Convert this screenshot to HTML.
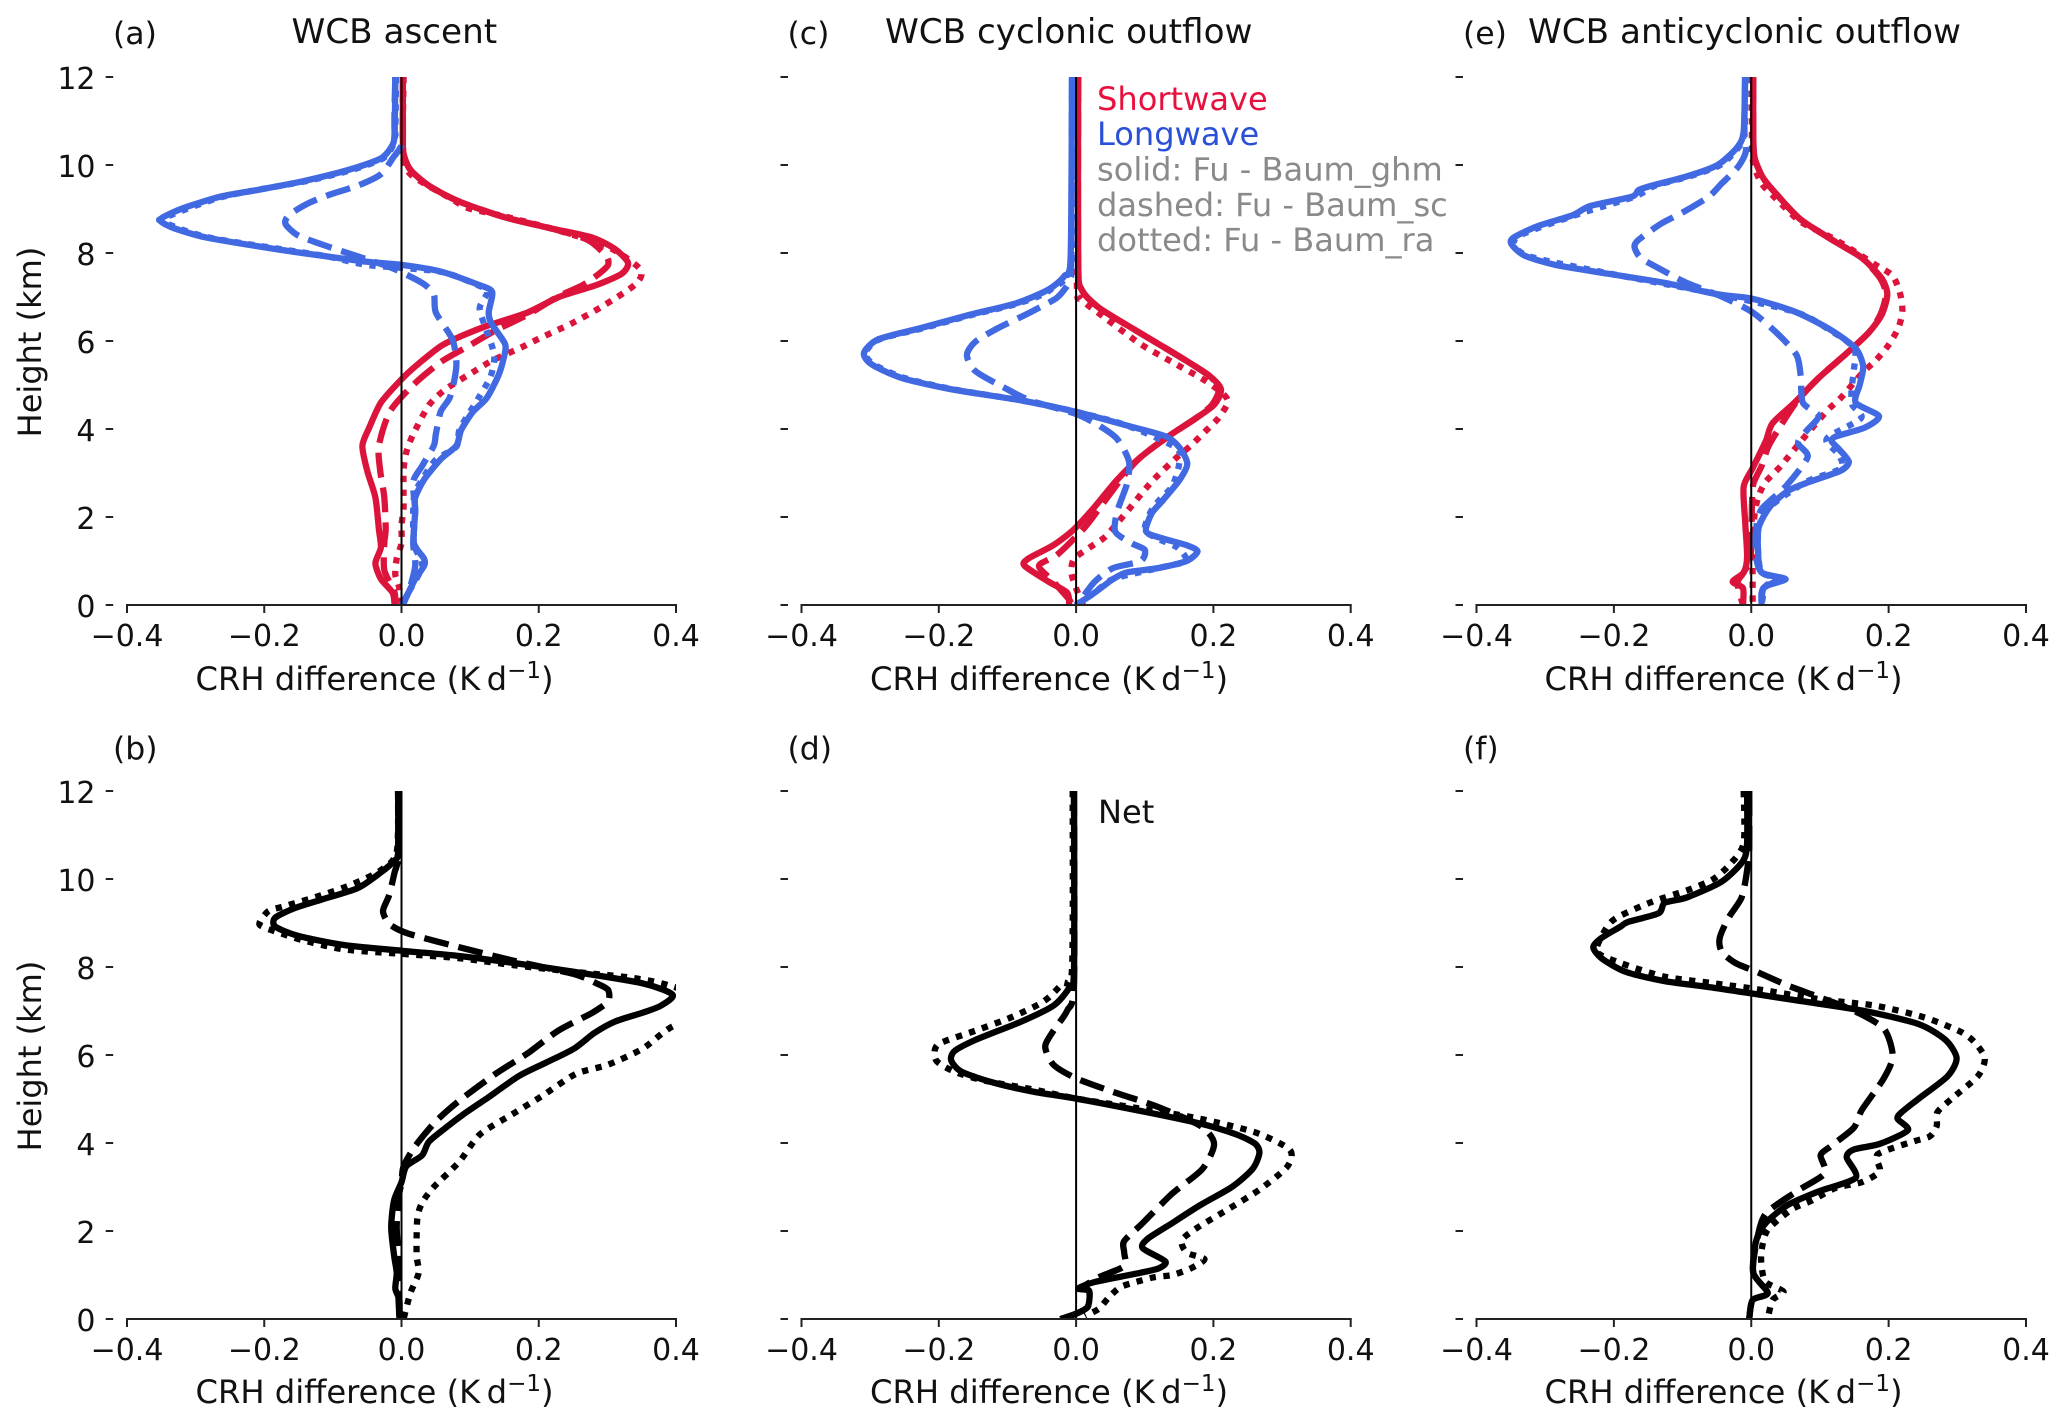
<!DOCTYPE html>
<html lang="en">
<head>
<meta charset="utf-8">
<title>CRH difference profiles</title>
<style>
html,body{margin:0;padding:0;background:#fff}
svg{display:block;font-family:"DejaVu Sans","Liberation Sans",sans-serif}
</style>
</head>
<body>
<svg id="figure" xmlns="http://www.w3.org/2000/svg" width="2067" height="1426" viewBox="0 0 2067 1426">
<rect width="2067" height="1426" fill="#fff"/>
<g id="panels"></g>
<g fill="#111">
<text x="291.5" y="43" font-size="34.2">WCB ascent</text>
<text x="885" y="43" font-size="34.2">WCB cyclonic outflow</text>
<text x="1528" y="43" font-size="34.2">WCB anticyclonic outflow</text>
<text x="113" y="44" font-size="31.5">(a)</text>
<text x="113" y="759" font-size="31.5">(b)</text>
<text x="787.5" y="44" font-size="31.5">(c)</text>
<text x="787.5" y="759" font-size="31.5">(d)</text>
<text x="1463" y="44" font-size="31.5">(e)</text>
<text x="1463" y="759" font-size="31.5">(f)</text>
<text font-size="32" text-anchor="middle" transform="translate(41 342) rotate(-90)">Height (km)</text>
<text font-size="32" text-anchor="middle" transform="translate(41 1056) rotate(-90)">Height (km)</text>
<text x="1097" y="110" font-size="32.1" fill="#e8103c">Shortwave</text>
<text x="1097" y="145" font-size="32.1" fill="#2b50d8">Longwave</text>
<text x="1097" y="180.5" font-size="32.1" fill="#8a8a8a">solid: Fu - Baum_ghm</text>
<text x="1097" y="216" font-size="32.1" fill="#8a8a8a">dashed: Fu - Baum_sc</text>
<text x="1097" y="251" font-size="32.1" fill="#8a8a8a">dotted: Fu - Baum_ra</text>
<text x="1098" y="823" font-size="32.1">Net</text>
</g>
</svg>
<script>
const xTickValues = [-0.4, -0.2, 0, 0.2, 0.4];
const xTickLabels = ["\u22120.4", "\u22120.2", "0.0", "0.2", "0.4"];
const yTickValues = [0, 2, 4, 6, 8, 10, 12];
const yTickLabels = ["0", "2", "4", "6", "8", "10", "12"];

const a_sw_solid_km = [12,10.66,10.25,9.89,9.53,9.17,8.81,8.56,8.35,8.09,7.78,7.53,7.27,7.01,6.65,6.34,6.09,5.88,5.42,5.13,4.6,4.03,3.62,3.05,2.44,1.72,1.31,.95,.59,.28,0];
const a_sw_solid_crh = [.002,.002,.003,.013,.04,.084,.151,.218,.278,.311,.33,.321,.284,.231,.184,.124,.084,.057,.02,0,-.03,-.047,-.057,-.05,-.038,-.033,-.03,-.038,-.03,-.013,-.01];
const a_sw_dashed_km = [12,10.66,10.25,9.89,9.53,9.17,8.81,8.56,8.3,7.94,7.73,7.53,7.27,7.01,6.6,6.24,5.88,5.52,5,4.39,3.62,3.05,2.44,1.72,1.41,.79,.28,0];
const a_sw_dashed_crh = [.002,.002,.003,.013,.04,.084,.151,.218,.271,.298,.301,.288,.264,.228,.184,.137,.097,.057,.017,-.017,-.033,-.031,-.025,-.023,-.025,-.025,-.01,-.01];
const a_sw_dotted_km = [12,10.25,9.84,9.58,9.22,9.02,8.83,8.5,8.14,7.63,7.29,6.81,6.4,6.06,5.85,5.57,5.32,4.9,4.54,3.88,3.47,3.05,2.23,1.82,1.41,1.05,.69,.38,0];
const a_sw_dotted_crh = [.003,.002,.01,.033,.074,.097,.151,.231,.301,.348,.341,.295,.248,.201,.174,.134,.107,.064,.04,.017,.007,.003,.003,0,0,-.007,-.009,-.003,0];
const a_lw_solid_km = [12,10.77,10.46,10.15,9.89,9.63,9.43,9.28,9.02,8.81,8.71,8.56,8.35,8.09,7.94,7.8,7.73,7.58,7.29,7.12,6.65,6.4,5.93,5.62,5.21,4.7,4.39,3.98,3.62,3.31,2.85,2.44,2.13,1.41,1.05,.89,.59,.28,0];
const a_lw_solid_crh = [-.009,-.01,-.013,-.03,-.077,-.144,-.211,-.264,-.318,-.348,-.35,-.331,-.284,-.184,-.117,-.05,0,.057,.11,.132,.127,.131,.151,.149,.141,.124,.104,.087,.08,.057,.033,.02,.02,.018,.033,.033,.02,.01,0];
const a_lw_dashed_km = [12,10.77,10.46,10.15,9.79,9.53,9.33,9.12,8.86,8.66,8.4,8.2,7.99,7.68,7.32,7.06,6.65,6.04,5.52,5.11,4.7,4.39,3.88,3.62,3.16,2.8,2.13,1.41,.89,.28,0];
const a_lw_dashed_crh = [-.009,-.01,0,-.013,-.03,-.064,-.104,-.137,-.164,-.169,-.151,-.117,-.077,-.017,.03,.047,.05,.074,.08,.077,.07,.057,.05,.047,.03,.017,.02,.017,.02,.01,0];
const a_lw_dotted_km = [12,10.77,10.46,10.15,9.89,9.63,9.28,8.81,8.71,8.35,7.94,7.73,7.58,7.29,7.12,6.76,6.4,5.7,5.2,4.7,4,3.6,3.3,2.85,2.44,1.41,.89,.28,0];
const a_lw_dotted_crh = [-.008,-.009,-.012,-.027,-.072,-.14,-.26,-.344,-.348,-.28,-.115,-.05,.055,.108,.125,.114,.12,.135,.13,.112,.085,.08,.05,.03,.018,.018,.03,.01,.002];

const c_sw_solid_km = [12,7.78,7.17,6.76,6.24,5.68,5.21,4.9,4.55,4.24,3.83,3.36,2.85,2.23,1.72,1.36,1.05,.89,.53,.28,0];
const c_sw_solid_crh = [.003,.003,.008,.033,.087,.147,.194,.211,.201,.174,.134,.094,.06,.027,-.003,-.033,-.07,-.075,-.04,-.013,-.01];
const c_sw_dashed_km = [12,7.78,7.17,6.76,6.24,5.68,5.21,4.9,4.55,4.24,3.83,3.36,2.95,2.33,1.77,1.15,.89,.53,.12,0];
const c_sw_dashed_crh = [.003,.003,.008,.033,.087,.147,.194,.208,.198,.174,.134,.094,.07,.04,.013,-.027,-.054,-.033,-.01,-.007];
const c_sw_dotted_km = [12,7.37,6.96,6.55,5.93,5.52,5.11,4.8,4.6,4.24,3.93,3.62,3.36,2.8,2.18,1.56,1.31,1.05,.74,.38,0];
const c_sw_dotted_crh = [.002,.001,.007,.04,.094,.14,.187,.214,.221,.207,.187,.167,.147,.11,.077,.043,.02,-.003,-.007,0,.01];
const c_lw_solid_km = [12,7.89,7.48,7.17,6.86,6.6,6.29,6.04,5.73,5.47,5.16,4.9,4.65,4.39,4.08,3.83,3.57,3.21,2.85,2.39,2.08,1.67,1.51,1.36,1.22,1,.84,.74,.59,.28,0];
const c_lw_solid_crh = [-.006,-.008,-.017,-.04,-.087,-.154,-.227,-.288,-.309,-.298,-.254,-.181,-.08,0,.074,.131,.151,.162,.151,.127,.11,.102,.127,.161,.177,.161,.12,.074,.054,.027,0];
const c_lw_dashed_km = [12,7.89,7.42,7.17,6.96,6.65,6.29,5.98,5.68,5.32,4.96,4.65,4.34,4.08,3.77,3.26,2.75,2.13,1.67,1.41,1.25,1,.84,.53,.12,0];
const c_lw_dashed_crh = [-.006,-.007,-.008,-.017,-.03,-.067,-.114,-.147,-.159,-.147,-.107,-.067,0,.033,.06,.077,.074,.06,.057,.08,.1,.094,.054,.027,.007,0];
const c_lw_dotted_km = [12,7.89,7.17,6.86,6.6,6.29,6.04,5.73,5.47,5.16,4.9,4.65,4.39,4.08,3.57,3.2,2.7,2.4,2.1,1.7,1.5,1.3,1,.84,.59,.28,0];
const c_lw_dotted_crh = [-.005,-.006,-.037,-.083,-.15,-.223,-.286,-.307,-.295,-.25,-.178,-.08,0,.074,.146,.15,.14,.122,.108,.1,.12,.148,.16,.12,.054,.027,0];

const e_sw_solid_km = [12,10.66,10.15,9.69,9.28,8.76,8.25,7.89,7.42,7.06,6.6,6.19,5.68,5.16,4.6,4.13,3.72,3.11,2.69,1.92,1.1,.74,.53,.38,0];
const e_sw_solid_crh = [.003,.003,.005,.018,.04,.072,.123,.161,.19,.198,.19,.171,.136,.098,.063,.031,.021,.002,-.011,-.009,-.006,-.011,-.027,-.012,-.012];
const e_sw_dashed_km = [12,10.66,10.15,9.69,9.28,8.76,8.25,7.89,7.42,7.06,6.6,6.19,5.68,5.16,4.6,3.93,3.57,3.16,2.75,2.23,1.1,.74,.5,0];
const e_sw_dashed_crh = [.003,.003,.005,.018,.04,.072,.123,.161,.188,.196,.188,.171,.136,.098,.065,.037,.024,.015,.003,.001,-.001,-.011,-.02,-.012];
const e_sw_dotted_km = [12,10.66,10.05,9.58,9.22,8.71,8.3,7.73,7.48,7.06,6.67,6.29,5.91,5.57,5.26,4.7,4.41,3.77,3.16,2.8,2.49,2.08,1.25,.59,0];
const e_sw_dotted_crh = [.001,.001,.003,.015,.037,.072,.123,.181,.206,.217,.22,.214,.2,.182,.161,.13,.11,.075,.043,.021,.011,.005,.002,.002,.002];
const e_lw_solid_km = [12,10.77,10.41,10,9.74,9.53,9.43,9.28,9.07,8.86,8.61,8.35,8.2,7.94,7.73,7.53,7.32,7.06,6.96,6.65,6.24,5.83,5.42,5.01,4.6,4.29,4.03,3.83,3.72,3.57,3.26,3.05,2.8,2.59,2.23,1.77,1.2,.74,.59,.43,.28,0];
const e_lw_solid_crh = [-.009,-.011,-.02,-.049,-.094,-.145,-.164,-.174,-.234,-.26,-.311,-.346,-.349,-.33,-.285,-.209,-.126,-.049,.002,.066,.117,.152,.163,.158,.152,.186,.165,.123,.117,.126,.142,.13,.085,.053,.027,.011,.01,.015,.05,.021,.015,.015];
const e_lw_dashed_km = [12,10.77,10.3,9.94,9.58,9.28,8.92,8.66,8.3,8.14,7.89,7.63,7.32,7.01,6.65,6.14,5.68,5.21,4.6,4.3,3.95,3.68,3.36,2.69,2.18,1.72,1.1,.74,.59,.38,0];
const e_lw_dashed_crh = [-.009,-.01,-.008,-.02,-.043,-.062,-.1,-.132,-.164,-.17,-.161,-.132,-.094,-.043,.002,.04,.066,.072,.075,.098,.08,.068,.082,.05,.015,.007,.007,.015,.04,.018,.015];
const e_lw_dotted_km = [12,10.77,10.41,10,9.74,9.53,9.28,8.86,8.35,7.94,7.53,7.06,6.65,6.24,5.83,5.3,4.9,4.55,4.25,3.85,3.7,3.4,3.1,2.8,2.23,1.77,1.2,.74,.59,.43,0];
const e_lw_dotted_crh = [-.008,-.01,-.018,-.045,-.09,-.14,-.17,-.256,-.342,-.326,-.205,-.047,.066,.115,.15,.149,.146,.147,.16,.115,.11,.128,.13,.08,.027,.011,.01,.015,.04,.021,.015];

const b_net_solid_km = [12,10.61,10.41,10.15,9.79,9.53,9.33,9.12,8.92,8.71,8.5,8.37,8.25,8.09,7.89,7.63,7.37,7.12,6.96,6.76,6.5,6.14,5.83,5.52,5.01,4.65,4.34,4.03,3.72,3.47,3.11,2.69,2.08,1.46,1.05,.69,.43,0];
const b_net_solid_crh = [-.005,-.005,-.011,-.03,-.064,-.117,-.157,-.184,-.184,-.151,-.084,0,.084,.164,.251,.351,.395,.378,.351,.311,.281,.251,.211,.171,.124,.09,.064,.04,.03,.007,0,-.011,-.015,-.011,-.007,-.009,-.003,-.003];
const b_net_dashed_km = [12,10.51,10.15,9.63,9.27,8.97,8.76,8.45,8.14,7.84,7.63,7.48,7.22,6.96,6.55,6.04,5.57,4.96,4.49,3.93,3.47,3.11,2.69,2.08,1.46,.74,0];
const b_net_dashed_crh = [-.005,-.005,-.01,-.018,-.027,-.017,.01,.084,.164,.251,.284,.301,.301,.278,.228,.184,.137,.084,.05,.02,.003,0,-.005,-.007,-.005,-.005,-.003];
const b_net_dotted_km = [12,10.61,10.2,9.89,9.63,9.38,9.27,8.97,8.81,8.61,8.4,8.3,8.2,8.04,7.89,7.75,7.56,7.1,6.65,6.14,5.78,5.57,5.06,4.65,4.19,3.57,3,2.64,2.28,1.46,1.05,.59,0];
const b_net_dotted_crh = [-.005,-.007,-.03,-.07,-.117,-.171,-.194,-.207,-.184,-.144,-.084,0,.084,.164,.251,.338,.395,.47,.395,.351,.301,.254,.204,.161,.114,.084,.047,.03,.023,.022,.025,.013,.003];

const d_net_solid_km = [12,7.94,7.53,7.12,6.76,6.34,6.09,5.88,5.62,5.37,5.16,5.01,4.75,4.44,4.19,3.98,3.77,3.41,3,2.59,2.18,1.82,1.61,1.31,1.15,1.03,.84,.69,.64,.28,.12,0];
const d_net_solid_crh = [-.003,-.003,-.01,-.033,-.08,-.147,-.177,-.182,-.167,-.12,-.06,0,.087,.181,.234,.261,.267,.257,.227,.181,.14,.104,.097,.13,.12,.087,.027,.003,.019,.017,0,-.023];
const d_net_dashed_km = [12,7.63,7.01,6.55,6.19,5.78,5.47,5.16,4.85,4.39,3.98,3.41,2.85,2.18,1.77,1.51,1.2,.95,.69,.64,.28,.12,0];
const d_net_dashed_crh = [-.003,-.003,-.013,-.033,-.045,-.033,0,.054,.114,.181,.201,.184,.14,.097,.07,.07,.07,.033,.007,.019,.017,0,-.023];
const d_net_dotted_km = [12,7.94,7.63,7.22,6.86,6.55,6.24,5.88,5.62,5.42,5.21,5.01,4.8,4.55,4.24,3.85,3.47,2.95,2.49,2.08,1.79,1.51,1.36,1.15,1,.95,.84,.72,.48,.23,.07];
const d_net_dotted_crh = [-.005,-.006,-.02,-.047,-.094,-.147,-.201,-.204,-.177,-.134,-.06,0,.087,.181,.261,.311,.308,.268,.221,.177,.154,.161,.187,.167,.14,.114,.087,.064,.047,.033,.013];

const f_net_solid_km = [12,10.82,10.41,9.94,9.58,9.46,9.22,9.02,8.92,8.66,8.45,8.2,7.89,7.68,7.53,7.4,7.24,7.01,6.7,6.34,5.93,5.52,5.01,4.7,4.55,4.29,3.98,3.85,3.67,3.21,2.9,2.59,2.18,1.77,1.05,.59,.43,0];
const f_net_solid_crh = [-.006,-.006,-.012,-.043,-.094,-.126,-.135,-.18,-.19,-.218,-.23,-.218,-.183,-.126,-.055,0,.066,.162,.244,.283,.299,.286,.244,.219,.213,.228,.187,.149,.139,.152,.098,.053,.021,.007,.003,.024,.002,-.003];
const f_net_dashed_km = [12,10.71,10.2,9.58,9.12,8.66,8.35,8.09,7.89,7.58,7.32,7.01,6.6,5.98,5.47,4.75,4.34,3.93,3.72,3.31,2.9,2.39,1.77,1.05,.59,.43,0];
const f_net_dashed_crh = [-.003,-.003,-.006,-.014,-.033,-.046,-.043,-.023,.008,.053,.098,.149,.193,.206,.193,.161,.149,.116,.101,.107,.066,.021,.008,.003,.024,.002,-.003];
const f_net_dotted_km = [12,10.82,10.35,9.99,9.74,9.48,9.12,8.86,8.35,8.09,7.78,7.63,7.48,7.27,7.12,6.86,6.55,6.31,5.93,5.52,5.01,4.7,4.39,4.15,4.03,3.74,3.36,3.11,2.98,2.69,2.49,2.03,1.56,1.2,.84,.62,.43,0];
const f_net_dotted_crh = [-.011,-.011,-.03,-.056,-.094,-.145,-.196,-.212,-.225,-.19,-.126,-.055,.015,.098,.181,.251,.302,.324,.34,.33,.292,.271,.27,.26,.235,.184,.187,.161,.123,.088,.059,.024,.015,.015,.021,.047,.031,.024];

const RED = "#dc143c", BLUE = "#4169e1", BLACK = "#000";
const STYLES = { solid: "", dashed: "25 10", dotted: "6.3 7.4" };

const panels = [
  { id: "a", left: 127, right: 676, top: 77, bottom: 605, xLabelAt: 195.5, xLabelY: 690, yLabels: true, tickX: 105.7,
    series: [
      ["shortwave-dotted", RED, "dotted", a_sw_dotted_km, a_sw_dotted_crh],
      ["shortwave-dashed", RED, "dashed", a_sw_dashed_km, a_sw_dashed_crh],
      ["shortwave-solid", RED, "solid", a_sw_solid_km, a_sw_solid_crh],
      ["longwave-dotted", BLUE, "dotted", a_lw_dotted_km, a_lw_dotted_crh],
      ["longwave-dashed", BLUE, "dashed", a_lw_dashed_km, a_lw_dashed_crh],
      ["longwave-solid", BLUE, "solid", a_lw_solid_km, a_lw_solid_crh]
    ] },
  { id: "c", left: 801.5, right: 1350.7, top: 77, bottom: 605, xLabelAt: 870, xLabelY: 690, yLabels: false, tickX: 780.5,
    series: [
      ["shortwave-dotted", RED, "dotted", c_sw_dotted_km, c_sw_dotted_crh],
      ["shortwave-dashed", RED, "dashed", c_sw_dashed_km, c_sw_dashed_crh],
      ["shortwave-solid", RED, "solid", c_sw_solid_km, c_sw_solid_crh],
      ["longwave-dotted", BLUE, "dotted", c_lw_dotted_km, c_lw_dotted_crh],
      ["longwave-dashed", BLUE, "dashed", c_lw_dashed_km, c_lw_dashed_crh],
      ["longwave-solid", BLUE, "solid", c_lw_solid_km, c_lw_solid_crh]
    ] },
  { id: "e", left: 1476.5, right: 2026, top: 77, bottom: 605, xLabelAt: 1544.5, xLabelY: 690, yLabels: false, tickX: 1455.5,
    series: [
      ["shortwave-dotted", RED, "dotted", e_sw_dotted_km, e_sw_dotted_crh],
      ["shortwave-dashed", RED, "dashed", e_sw_dashed_km, e_sw_dashed_crh],
      ["shortwave-solid", RED, "solid", e_sw_solid_km, e_sw_solid_crh],
      ["longwave-dotted", BLUE, "dotted", e_lw_dotted_km, e_lw_dotted_crh],
      ["longwave-dashed", BLUE, "dashed", e_lw_dashed_km, e_lw_dashed_crh],
      ["longwave-solid", BLUE, "solid", e_lw_solid_km, e_lw_solid_crh]
    ] },
  { id: "b", left: 127, right: 676, top: 791, bottom: 1319, xLabelAt: 195.5, xLabelY: 1403, yLabels: true, tickX: 105.7,
    series: [
      ["net-dotted", BLACK, "dotted", b_net_dotted_km, b_net_dotted_crh],
      ["net-dashed", BLACK, "dashed", b_net_dashed_km, b_net_dashed_crh],
      ["net-solid", BLACK, "solid", b_net_solid_km, b_net_solid_crh]
    ] },
  { id: "d", left: 801.5, right: 1350.7, top: 791, bottom: 1319, xLabelAt: 870, xLabelY: 1403, yLabels: false, tickX: 780.5,
    series: [
      ["net-dotted", BLACK, "dotted", d_net_dotted_km, d_net_dotted_crh],
      ["net-dashed", BLACK, "dashed", d_net_dashed_km, d_net_dashed_crh],
      ["net-solid", BLACK, "solid", d_net_solid_km, d_net_solid_crh]
    ] },
  { id: "f", left: 1476.5, right: 2026, top: 791, bottom: 1319, xLabelAt: 1544.5, xLabelY: 1403, yLabels: false, tickX: 1455.5,
    series: [
      ["net-dotted", BLACK, "dotted", f_net_dotted_km, f_net_dotted_crh],
      ["net-dashed", BLACK, "dashed", f_net_dashed_km, f_net_dashed_crh],
      ["net-solid", BLACK, "solid", f_net_solid_km, f_net_solid_crh]
    ] }
];

const NS = "http://www.w3.org/2000/svg";
function make(tag, attrs, parent) {
  const el = document.createElementNS(NS, tag);
  for (const k in attrs) el.setAttribute(k, attrs[k]);
  parent.appendChild(el);
  return el;
}

function smoothPath(pts) {
  let d = "M" + pts[0][0].toFixed(1) + " " + pts[0][1].toFixed(1);
  for (let i = 0; i < pts.length - 1; i++) {
    const p0 = pts[Math.max(i - 1, 0)], p1 = pts[i], p2 = pts[i + 1], p3 = pts[Math.min(i + 2, pts.length - 1)];
    const c1x = p1[0] + (p2[0] - p0[0]) / 8, c1y = p1[1] + (p2[1] - p0[1]) / 8;
    const c2x = p2[0] - (p3[0] - p1[0]) / 8, c2y = p2[1] - (p3[1] - p1[1]) / 8;
    d += "C" + c1x.toFixed(1) + " " + c1y.toFixed(1) + " " + c2x.toFixed(1) + " " + c2y.toFixed(1) + " " + p2[0].toFixed(1) + " " + p2[1].toFixed(1);
  }
  return d;
}

const root = document.getElementById("panels");
const defs = make("defs", {}, root);

panels.forEach(function (p) {
  const xScale = function (v) { return p.left + (v + 0.4) / 0.8 * (p.right - p.left); };
  const yScale = function (km) { return p.bottom - km / 12 * (p.bottom - p.top); };

  const g = make("g", {}, root);
  
  

  const clip = make("clipPath", { id: "clip-" + p.id }, defs);
  make("rect", { x: p.left, y: p.top, width: p.right - p.left, height: p.bottom - p.top }, clip);

  const lines = make("g", { "clip-path": "url(#clip-" + p.id + ")" }, g);
  
  
  p.series.forEach(function (s) {
    const km = s[3], crh = s[4], pts = [];
    for (let i = 0; i < Math.min(km.length, crh.length); i++) pts.push([xScale(crh[i]), yScale(km[i])]);
    const path = make("path", {
      d: smoothPath(pts), fill: "none", stroke: s[1], "stroke-width": 6.3,
      "stroke-linejoin": "round", "stroke-dasharray": STYLES[s[2]] || "none"
    }, lines);
    
    
  });

  const zero = make("line", { x1: xScale(0), x2: xScale(0), y1: p.top, y2: p.bottom, stroke: "#000", "stroke-width": 2 }, g);
  
  

  const spine = make("line", { x1: p.left - 1, x2: p.right + 1, y1: p.bottom, y2: p.bottom, stroke: "#222", "stroke-width": 2 }, g);
  
  

  xTickValues.forEach(function (v, i) {
    const t = make("line", { x1: xScale(v), x2: xScale(v), y1: p.bottom, y2: p.bottom + 8, stroke: "#222", "stroke-width": 2 }, g);
    
    
    const l = make("text", { x: xScale(v), y: p.bottom + 41, "font-size": 30, "text-anchor": "middle", fill: "#111" }, g);
    l.textContent = xTickLabels[i];
    
    
  });

  yTickValues.forEach(function (v, i) {
    const t = make("line", { x1: p.tickX, x2: p.tickX + 7.5, y1: yScale(v), y2: yScale(v), stroke: "#222", "stroke-width": 2 }, g);
    
    
    if (p.yLabels) {
      const l = make("text", { x: 95.5, y: yScale(v) + 12, "font-size": 30, "text-anchor": "end", fill: "#111" }, g);
      l.textContent = yTickLabels[i];
      
      
    }
  });

  const xl = make("text", { x: p.xLabelAt, y: p.xLabelY, "font-size": 32.2, fill: "#111" }, g);
  
  
  const a = make("tspan", {}, xl);
  a.textContent = "CRH difference (K\u2009d";
  const b = make("tspan", { dy: -12, "font-size": 23 }, xl);
  b.textContent = "\u22121";
  const c = make("tspan", { dy: 12 }, xl);
  c.textContent = ")";
});
</script>
</body>
</html>
